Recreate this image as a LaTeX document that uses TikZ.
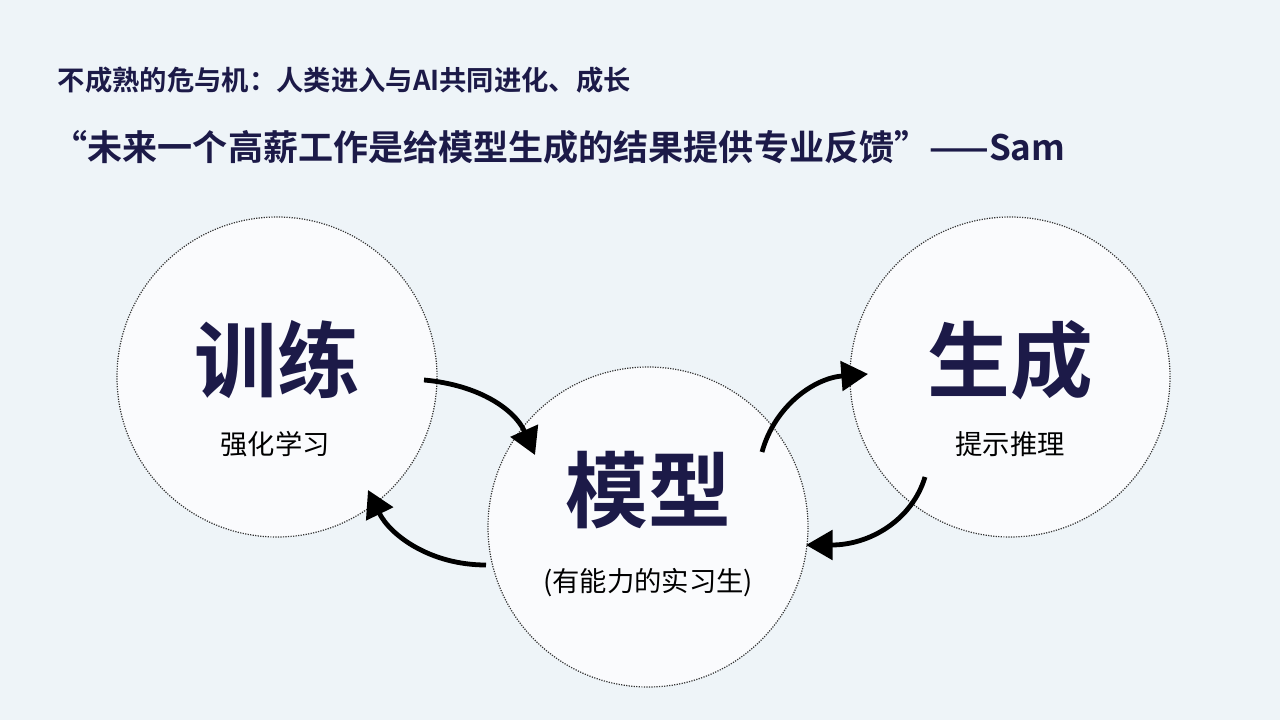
\documentclass[tikz,border=0pt]{standalone}
\usepackage{fontspec}
\newfontfamily\cjk{Noto Sans CJK SC}
\newfontfamily\cjkb{Noto Sans CJK SC Bold}
\usetikzlibrary{arrows.meta}
\definecolor{bg}{HTML}{EEF4F8}
\definecolor{navy}{HTML}{1C1A48}
\definecolor{cfill}{HTML}{FAFBFD}
\begin{document}
\begin{tikzpicture}[x=0.75pt,y=-0.75pt,
  circ/.style={circle,draw=black!80,densely dotted,line width=0.9pt,fill=cfill,minimum size=240pt,inner sep=0pt},
  big/.style={font=\cjkb\fontsize{62}{62}\selectfont,text=navy},
  small/.style={font=\cjk\fontsize{20.5}{20.5}\selectfont,text=black},
  arr/.style={line width=3.6pt,-{Triangle[length=20pt,width=22pt]}}]
\fill[bg] (0,0) rectangle (1280,720);
\useasboundingbox (0,0) rectangle (1280,720);
\node[anchor=west,font=\cjkb\fontsize{20.5}{20.5}\selectfont,text=navy] (t1) at (53,80) {不成熟的危与机：人类进入与AI共同进化、成长};
\node[anchor=west,font=\cjkb\fontsize{26.3}{26.3}\selectfont,text=navy] (t2) at (48,147) {“未来一个高薪工作是给模型生成的结果提供专业反馈”——Sam};
\node[circ] (L) at (277,377) {};
\node[circ] (R) at (1010,377) {};
\node[circ] (M) at (648,527) {};
\node[big] (l1) at (277,360) {训练};
\node[small] (l2) at (275,444) {强化学习};
\node[big] (r1) at (1010,360) {生成};
\node[small] (r2) at (1010,444) {提示推理};
\node[big] (m1) at (648,490) {模型};
\node[small] (m2) at (648,583) {(有能力的实习生)};
\coordinate (a1s) at (424,380); \coordinate (a1e) at (535,455);
\coordinate (a2s) at (486,565); \coordinate (a2e) at (368,490);
\coordinate (a3s) at (762,452); \coordinate (a3e) at (868,374);
\coordinate (a4s) at (925,477); \coordinate (a4e) at (806,545);
\draw[arr] (a1s) .. controls (480,385) and (515,410) .. (a1e);
\draw[arr] (a2s) .. controls (430,565) and (390,535) .. (a2e);
\draw[arr] (a3s) .. controls (775,405) and (815,378) .. (a3e);
\draw[arr] (a4s) .. controls (912,520) and (870,545) .. (a4e);
\end{tikzpicture}
\end{document}
